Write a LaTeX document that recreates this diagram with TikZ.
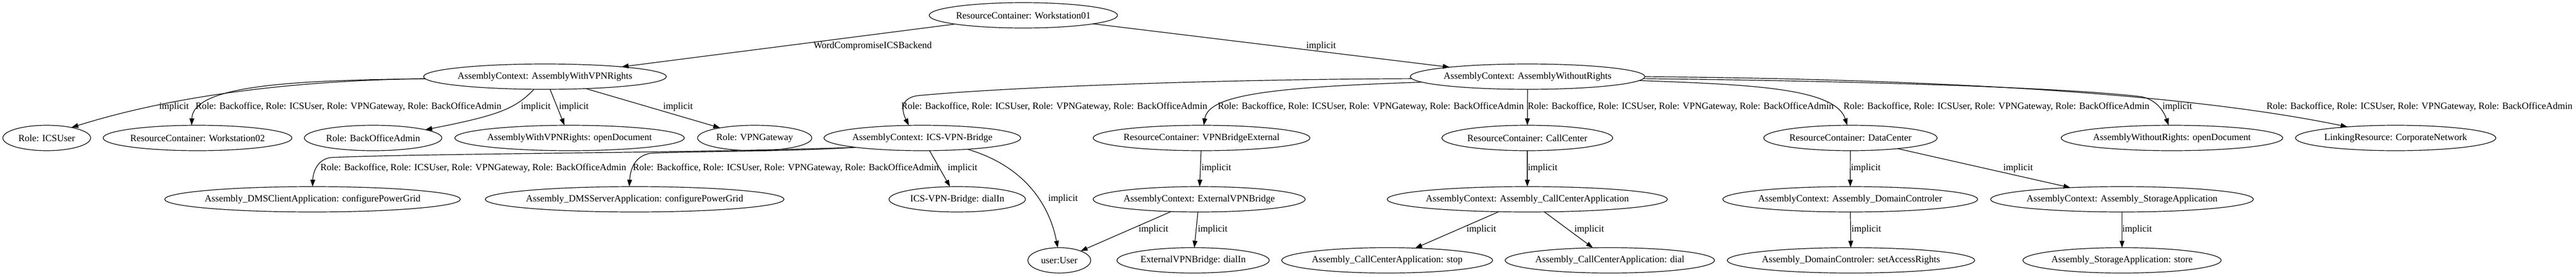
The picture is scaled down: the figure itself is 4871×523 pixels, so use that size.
\documentclass[tikz,border=0pt]{standalone}
\usepackage{fontspec}
\setmainfont{Liberation Serif}
\usetikzlibrary{shapes.geometric,arrows.meta}
\newcommand\rolestr{Role: Backoffice, Role: ICSUser, Role: VPNGateway, Role: BackOfficeAdmin}
\newcommand\zb[1]{\makebox[0pt]{#1}}
\begin{document}
\begin{tikzpicture}[x=1pt,y=-1pt,
 ell/.style={draw, ellipse, line width=1.2pt, minimum height=48pt, inner sep=0pt, outer sep=0pt, font=\fontsize{18pt}{21pt}\selectfont},
 arr/.style={line width=1.2pt, -{Triangle[length=13pt,width=9pt]}},
 lbl/.style={inner sep=0pt, font=\fontsize{18pt}{21pt}\selectfont}]
\useasboundingbox (0,0) rectangle (4871,523);
% row 0
\node[ell, minimum width=356pt] (ws01) at (1935,29) {\zb{ResourceContainer: Workstation01}};
% row 1
\node[ell, minimum width=459pt] (vpn) at (1030.5,145) {\zb{AssemblyContext: AssemblyWithVPNRights}};
\node[ell, minimum width=443.5pt] (wor) at (2888.5,145) {\zb{AssemblyContext: AssemblyWithoutRights}};
% row 2
\node[ell, minimum width=166pt] (icsuser) at (88.4,261) {\zb{Role: ICSUser}};
\node[ell, minimum width=357pt] (ws02) at (373.5,261) {\zb{ResourceContainer: Workstation02}};
\node[ell, minimum width=260pt] (boadmin) at (705.5,261) {\zb{Role: BackOfficeAdmin}};
\node[ell, minimum width=434pt] (vpnopen) at (1077,261) {\zb{AssemblyWithVPNRights: openDocument}};
\node[ell, minimum width=216pt] (vpngw) at (1427,261) {\zb{Role: VPNGateway}};
\node[ell, minimum width=372pt] (icsbridge) at (1744,261) {\zb{AssemblyContext: ICS-VPN-Bridge}};
\node[ell, minimum width=410pt] (vpnbext) at (2272,261) {\zb{ResourceContainer: VPNBridgeExternal}};
\node[ell, minimum width=323pt] (callcenter) at (2888,261) {\zb{ResourceContainer: CallCenter}};
\node[ell, minimum width=328pt] (datacenter) at (3499,261) {\zb{ResourceContainer: DataCenter}};
\node[ell, minimum width=419pt] (woropen) at (4107,261) {\zb{AssemblyWithoutRights: openDocument}};
\node[ell, minimum width=379pt] (linkres) at (4530,261) {\zb{LinkingResource: CorporateNetwork}};
% row 3
\node[ell, minimum width=559pt] (dmsclient) at (591,377) {\zb{Assembly\_DMSClientApplication: configurePowerGrid}};
\node[ell, minimum width=565pt] (dmsserver) at (1200,377) {\zb{Assembly\_DMSServerApplication: configurePowerGrid}};
\node[ell, minimum width=258pt] (icsdial) at (1810,377) {\zb{ICS-VPN-Bridge: dialIn}};
\node[ell, minimum width=401pt] (extbridge) at (2267.5,377) {\zb{AssemblyContext: ExternalVPNBridge}};
\node[ell, minimum width=530pt] (ccapp) at (2888,377) {\zb{AssemblyContext: Assembly\_CallCenterApplication}};
\node[ell, minimum width=482pt] (domctl) at (3498.6,377) {\zb{AssemblyContext: Assembly\_DomainControler}};
\node[ell, minimum width=497pt] (storage) at (4012.5,377) {\zb{AssemblyContext: Assembly\_StorageApplication}};
% row 4
\node[ell, minimum width=119pt] (user) at (2003,492.5) {\zb{user:User}};
\node[ell, minimum width=288pt] (extdial) at (2256,492.5) {\zb{ExternalVPNBridge: dialIn}};
\node[ell, minimum width=399pt] (ccstop) at (2623,492.5) {\zb{Assembly\_CallCenterApplication: stop}};
\node[ell, minimum width=396pt] (ccdial) at (3044,492.5) {\zb{Assembly\_CallCenterApplication: dial}};
\node[ell, minimum width=468pt] (setacc) at (3500,492.5) {\zb{Assembly\_DomainControler: setAccessRights}};
\node[ell, minimum width=375pt] (store) at (4012.5,492.5) {\zb{Assembly\_StorageApplication: store}};

% edges
\draw[arr] (ws01) -- (vpn);
\draw[arr] (ws01) -- (wor);
\draw[arr] (vpn.181) .. controls (560,152) and (330,180) .. (icsuser.23);
\draw[arr] (vpn.181) .. controls (560,152) and (365,160) .. (ws02.115);
\draw[arr] (vpn.229) .. controls (975,205) and (945,218) .. (boadmin.9);
\draw[arr] (vpn) -- (vpnopen);
\draw[arr] (vpn) -- (vpngw);
\draw[arr] (wor.181) .. controls (2300,150) and (1900,165) .. (1735,181) .. controls (1700,186) and (1706,212) .. (icsbridge.137);
\draw[arr] (wor.183) .. controls (2400,165) and (2285,180) .. (vpnbext.80);
\draw[arr] (wor) -- (callcenter);
\draw[arr] (wor.-2.2) .. controls (3300,160) and (3470,165) .. (datacenter.104);
\draw[arr] (wor.-1.5) .. controls (3500,153) and (3900,165) .. (4050,183) .. controls (4080,190) and (4092,212) .. (woropen.105);
\draw[arr] (wor.-0.5) .. controls (3700,150) and (4150,180) .. (linkres.167);
\draw[arr] (icsbridge.188) .. controls (1300,290) and (800,290) .. (625,298) .. controls (600,302) and (592,325) .. (dmsclient.north);
\draw[arr] (icsbridge.188) .. controls (1500,287) and (1300,286) .. (1230,290) .. controls (1200,295) and (1192,320) .. (dmsserver.113);
\draw[arr] (icsbridge) -- (icsdial);
\draw[arr] (icsbridge.-14) .. controls (1940,315) and (1985,390) .. (user.97);
\draw[arr] (vpnbext) -- (extbridge);
\draw[arr] (extbridge) -- (user);
\draw[arr] (extbridge) -- (extdial);
\draw[arr] (callcenter) -- (ccapp);
\draw[arr] (ccapp) -- (ccstop);
\draw[arr] (ccapp) -- (ccdial);
\draw[arr] (datacenter) -- (domctl);
\draw[arr] (datacenter) -- (storage);
\draw[arr] (domctl) -- (setacc);
\draw[arr] (storage) -- (store);

% labels
\node[lbl] (l1) at (1650,87) {WordCompromiseICSBackend};
\node[lbl] (l2) at (2498,87) {implicit};
\node[lbl] (l3) at (329,202) {implicit};
\node[lbl] (l4) at (659,202) {\rolestr};
\node[lbl] (l5) at (1013,202) {implicit};
\node[lbl] (l6) at (1085,202) {implicit};
\node[lbl] (l7) at (1282,202) {implicit};
\node[lbl] (l8) at (1993.5,202) {\rolestr};
\node[lbl] (l9) at (2592,202) {\rolestr};
\node[lbl] (l10) at (3178,202) {\rolestr};
\node[lbl] (l11) at (3775,202) {\rolestr};
\node[lbl] (l12) at (4117,202) {implicit};
\node[lbl] (l13) at (4575,202) {\rolestr};
\node[lbl] (l14) at (895,318) {\rolestr};
\node[lbl] (l15) at (1486,318) {\rolestr};
\node[lbl] (l16) at (1820,318) {implicit};
\node[lbl] (l17) at (2010,376) {implicit};
\node[lbl] (l18) at (2300,318) {implicit};
\node[lbl] (l19) at (2917,318) {implicit};
\node[lbl] (l20) at (3528,318) {implicit};
\node[lbl] (l21) at (3816,318) {implicit};
\node[lbl] (l22) at (2181,434) {implicit};
\node[lbl] (l23) at (2293,434) {implicit};
\node[lbl] (l24) at (2801,434) {implicit};
\node[lbl] (l25) at (3005,434) {implicit};
\node[lbl] (l26) at (3529,434) {implicit};
\node[lbl] (l27) at (4041,434) {implicit};
\end{tikzpicture}
\end{document}
